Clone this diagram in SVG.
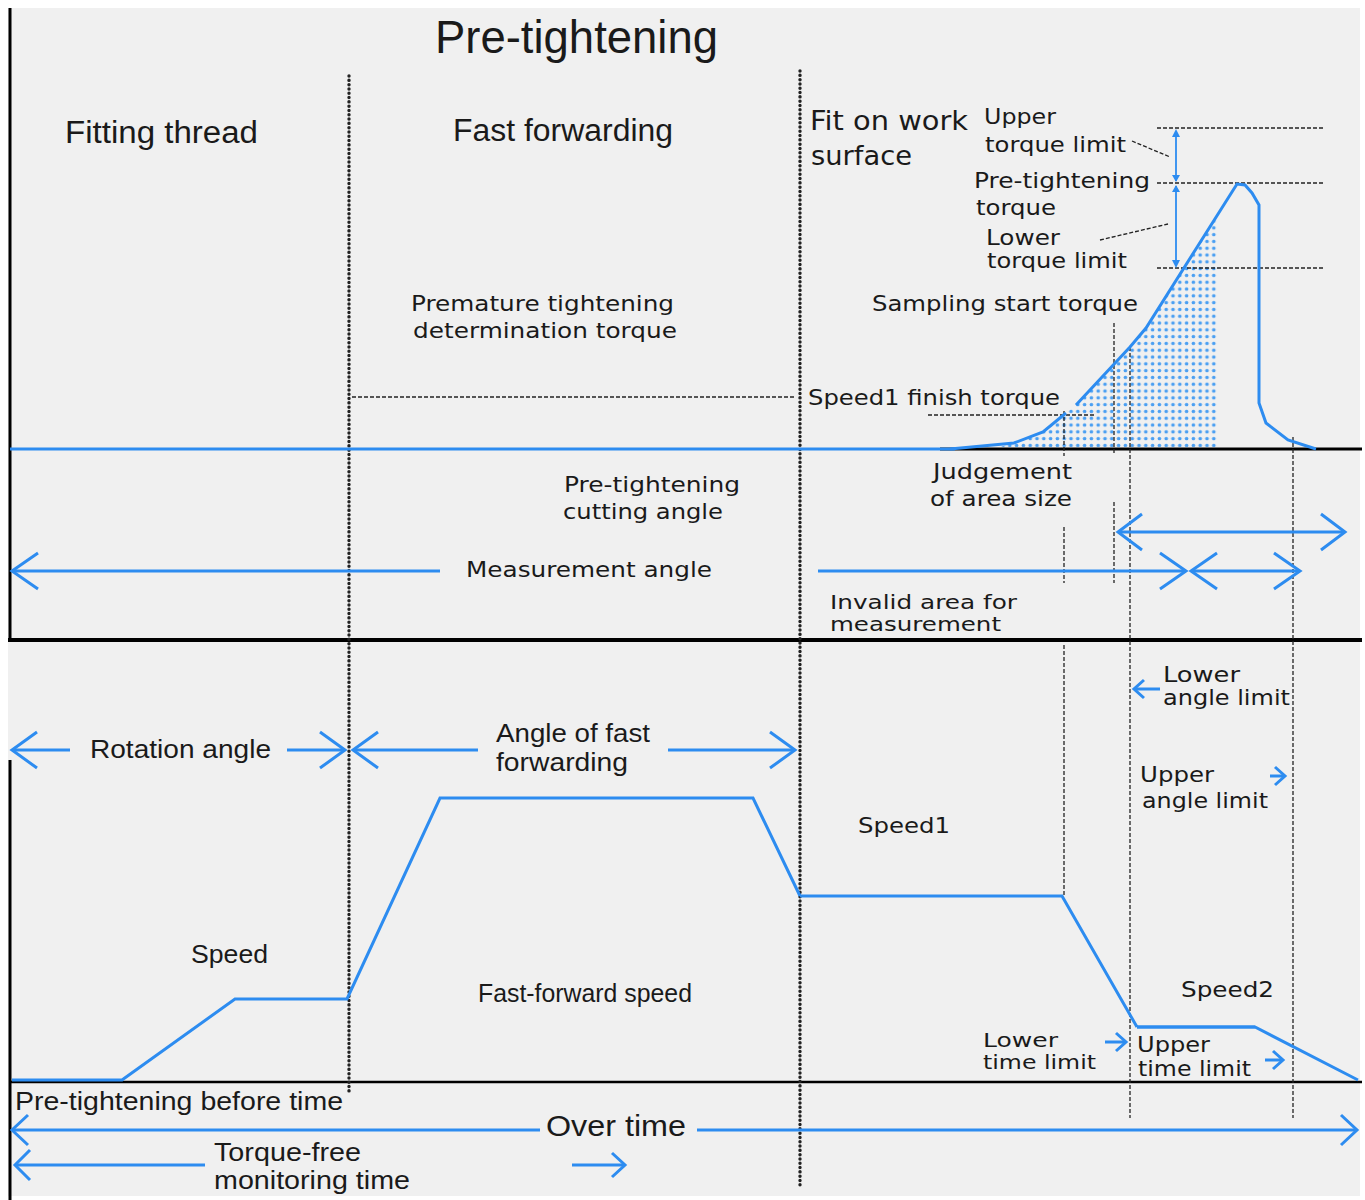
<svg xmlns="http://www.w3.org/2000/svg" width="1365" height="1200" viewBox="0 0 1365 1200">
<defs>
<style>
.v{font-family:"DejaVu Sans","Verdana",sans-serif;fill:#1a1a1a;font-size:22px}
.t{font-family:"Liberation Sans","Arial",sans-serif;fill:#1a1a1a;font-size:26px}
.bl{stroke:#2d8cf0;stroke-width:3;fill:none;stroke-linejoin:miter}
.bk{stroke:#000;fill:none}
.dot{stroke:#222;stroke-width:3.4;stroke-dasharray:0.1 4.2;stroke-linecap:round;fill:none}
.dash{stroke:#222;stroke-width:1.3;stroke-dasharray:4 2;fill:none}
</style>
<pattern id="dots" x="0" y="0" width="6.8" height="6.8" patternUnits="userSpaceOnUse">
<circle cx="3.4" cy="3.4" r="1.8" fill="#4a9ff2"/>
</pattern>
<clipPath id="area">
<polygon points="1000,447 1014,443 1043,432 1066,413 1076,405 1130,347 1146,328 1218,214 1218,447"/>
</clipPath>
</defs>
<rect x="0" y="0" width="1365" height="1200" fill="#ffffff"/>
<rect x="8" y="8" width="1352" height="1188" fill="#f0f0f0"/>

<g id="frame">
<line class="bk" x1="10" y1="8" x2="10" y2="641" stroke-width="3"/>
<line class="bk" x1="8" y1="640" x2="1362" y2="640" stroke-width="4"/>
<line class="bk" x1="10" y1="760" x2="10" y2="1200" stroke-width="3"/>
<line class="bk" x1="10" y1="1082" x2="1362" y2="1082" stroke-width="2.5"/>
<line class="bk" x1="940" y1="449" x2="1362" y2="449" stroke-width="3"/>
</g>

<g id="area-fill">
<rect x="995" y="200" width="230" height="250" fill="url(#dots)" clip-path="url(#area)"/>
</g>

<g id="connectors">
<line class="dot" x1="349" y1="76" x2="349" y2="1093"/>
<line class="dot" x1="800" y1="71" x2="800" y2="1186"/>
<line class="dash" x1="1157" y1="128" x2="1323" y2="128"/>
<line class="dash" x1="1157" y1="183" x2="1323" y2="183"/>
<line class="dash" x1="1157" y1="268" x2="1323" y2="268"/>
<line class="dash" x1="928" y1="415" x2="1095" y2="415"/>
<line class="dash" x1="352" y1="397" x2="795" y2="397"/>
<line class="dash" x1="1132" y1="141" x2="1170" y2="157"/>
<line class="dash" x1="1100" y1="240" x2="1168" y2="224"/>
<line class="dash" x1="1064" y1="411" x2="1064" y2="456"/>
<line class="dash" x1="1064" y1="527" x2="1064" y2="583"/>
<line class="dash" x1="1064" y1="645" x2="1064" y2="895"/>
<line class="dash" x1="1114" y1="323" x2="1114" y2="453"/>
<line class="dash" x1="1114" y1="502" x2="1114" y2="583"/>
<line class="dash" x1="1130" y1="347" x2="1130" y2="1118"/>
<line class="dash" x1="1293" y1="437" x2="1293" y2="1118"/>

<line class="bl" x1="10" y1="449" x2="955" y2="449" stroke-width="4"/>
<polyline class="bl" points="950,449 1014,443 1043,432 1066,413"/>
<polyline class="bl" points="1076,405 1130,347 1146,328 1237,184 1245,185 1252,193 1259,205 1259,403 1266,423 1288,440 1316,449"/>

<line stroke="#2d8cf0" stroke-width="1.8" x1="1176" y1="131" x2="1176" y2="181"/>
<line stroke="#2d8cf0" stroke-width="1.8" x1="1176" y1="186" x2="1176" y2="266"/>
<path d="M1172,137 L1176,129 L1180,137 Z M1172,175 L1176,182 L1180,175 Z M1172,192 L1176,185 L1180,192 Z M1172,260 L1176,268 L1180,260 Z" fill="#2d8cf0"/>

<line class="bl" x1="12" y1="571" x2="440" y2="571"/>
<path class="bl" d="M38,553 L12,571 L38,589"/>
<line class="bl" x1="818" y1="571" x2="1186" y2="571"/>
<path class="bl" d="M1160,553 L1186,571 L1160,589"/>
<line class="bl" x1="1191" y1="571" x2="1300" y2="571"/>
<path class="bl" d="M1217,553 L1191,571 L1217,589"/>
<path class="bl" d="M1274,553 L1300,571 L1274,589"/>
<line class="bl" x1="1118" y1="532" x2="1345" y2="532"/>
<path class="bl" d="M1142,514 L1118,532 L1142,550"/>
<path class="bl" d="M1321,514 L1345,532 L1321,550"/>

<line class="bl" x1="12" y1="750" x2="70" y2="750"/>
<path class="bl" d="M37,732 L12,750 L37,768"/>
<line class="bl" x1="287" y1="750" x2="345" y2="750"/>
<path class="bl" d="M320,732 L345,750 L320,768"/>
<line class="bl" x1="353" y1="750" x2="478" y2="750"/>
<path class="bl" d="M378,732 L353,750 L378,768"/>
<line class="bl" x1="668" y1="750" x2="795" y2="750"/>
<path class="bl" d="M770,732 L795,750 L770,768"/>

<polyline class="bl" points="12,1080 122,1080 235,999 347,999 440,798 753,798 800,896"/>
<polyline class="bl" stroke-width="5" points="800,896 1062,896 1137,1027"/>
<polyline class="bl" points="1137,1027 1255,1027 1358,1080"/>
<line class="bl" x1="1137" y1="1027" x2="1255" y2="1027" stroke-width="4"/>

<line class="bl" x1="1134" y1="689" x2="1160" y2="689"/>
<path class="bl" d="M1144,680 L1134,689 L1144,698"/>
<line class="bl" x1="1270" y1="776" x2="1285" y2="776"/>
<path class="bl" d="M1275,767 L1285,776 L1275,785"/>
<line class="bl" x1="1105" y1="1042" x2="1126" y2="1042"/>
<path class="bl" d="M1116,1033 L1126,1042 L1116,1051"/>
<line class="bl" x1="1265" y1="1060" x2="1283" y2="1060"/>
<path class="bl" d="M1273,1051 L1283,1060 L1273,1069"/>

<line class="bl" x1="12" y1="1130" x2="540" y2="1130"/>
<path class="bl" d="M28,1115 L12,1130 L28,1145"/>
<line class="bl" x1="697" y1="1130" x2="1357" y2="1130"/>
<path class="bl" d="M1341,1115 L1357,1130 L1341,1145"/>
<line class="bl" x1="15" y1="1165" x2="205" y2="1165"/>
<path class="bl" d="M30,1150 L15,1165 L30,1180"/>
<line class="bl" x1="572" y1="1165" x2="625" y2="1165"/>
<path class="bl" d="M612,1153 L625,1165 L612,1177"/>
</g>

<g id="labels">
<text class="t" x="435" y="53" style="font-size:46px" textLength="283" lengthAdjust="spacingAndGlyphs">Pre-tightening</text>
<text class="t" x="65" y="143" style="font-size:31px" textLength="193" lengthAdjust="spacingAndGlyphs">Fitting thread</text>
<text class="t" x="453" y="141" style="font-size:31px" textLength="220" lengthAdjust="spacingAndGlyphs">Fast forwarding</text>
<text class="v" x="810" y="130" style="font-size:27px" textLength="158" lengthAdjust="spacingAndGlyphs">Fit on work</text>
<text class="v" x="811" y="165" style="font-size:27px" textLength="101" lengthAdjust="spacingAndGlyphs">surface</text>
<text class="v" x="984" y="124" textLength="72" lengthAdjust="spacingAndGlyphs">Upper</text>
<text class="v" x="985" y="152" textLength="141" lengthAdjust="spacingAndGlyphs">torque limit</text>
<text class="v" x="974" y="188" textLength="176" lengthAdjust="spacingAndGlyphs">Pre-tightening</text>
<text class="v" x="976" y="215" textLength="80" lengthAdjust="spacingAndGlyphs">torque</text>
<text class="v" x="986" y="245" style="font-size:21px" textLength="74" lengthAdjust="spacingAndGlyphs">Lower</text>
<text class="v" x="987" y="268" style="font-size:21px" textLength="140" lengthAdjust="spacingAndGlyphs">torque limit</text>
<text class="v" x="411" y="311" textLength="263" lengthAdjust="spacingAndGlyphs">Premature tightening</text>
<text class="v" x="413" y="338" textLength="264" lengthAdjust="spacingAndGlyphs">determination torque</text>
<text class="v" x="872" y="311" textLength="266" lengthAdjust="spacingAndGlyphs">Sampling start torque</text>
<text class="v" x="808" y="405" textLength="252" lengthAdjust="spacingAndGlyphs">Speed1 finish torque</text>
<text class="v" x="933" y="479" textLength="139" lengthAdjust="spacingAndGlyphs">Judgement</text>
<text class="v" x="930" y="506" textLength="142" lengthAdjust="spacingAndGlyphs">of area size</text>
<text class="v" x="564" y="492" textLength="176" lengthAdjust="spacingAndGlyphs">Pre-tightening</text>
<text class="v" x="563" y="519" textLength="160" lengthAdjust="spacingAndGlyphs">cutting angle</text>
<text class="v" x="466" y="577" textLength="246" lengthAdjust="spacingAndGlyphs">Measurement angle</text>
<text class="v" x="830" y="609" style="font-size:19px" textLength="187" lengthAdjust="spacingAndGlyphs">Invalid area for</text>
<text class="v" x="830" y="631" style="font-size:19px" textLength="171" lengthAdjust="spacingAndGlyphs">measurement</text>
<text class="v" x="1163" y="682" style="font-size:21px" textLength="77" lengthAdjust="spacingAndGlyphs">Lower</text>
<text class="v" x="1163" y="705" style="font-size:21px" textLength="127" lengthAdjust="spacingAndGlyphs">angle limit</text>
<text class="t" x="90" y="758" textLength="181" lengthAdjust="spacingAndGlyphs">Rotation angle</text>
<text class="t" x="496" y="742" textLength="154" lengthAdjust="spacingAndGlyphs">Angle of fast</text>
<text class="t" x="496" y="771" textLength="132" lengthAdjust="spacingAndGlyphs">forwarding</text>
<text class="v" x="1140" y="782" textLength="74" lengthAdjust="spacingAndGlyphs">Upper</text>
<text class="v" x="1142" y="808" textLength="126" lengthAdjust="spacingAndGlyphs">angle limit</text>
<text class="v" x="858" y="833" textLength="92" lengthAdjust="spacingAndGlyphs">Speed1</text>
<text class="t" x="191" y="963" textLength="77" lengthAdjust="spacingAndGlyphs">Speed</text>
<text class="t" x="478" y="1002" textLength="214" lengthAdjust="spacingAndGlyphs">Fast-forward speed</text>
<text class="v" x="1181" y="997" textLength="93" lengthAdjust="spacingAndGlyphs">Speed2</text>
<text class="v" x="983" y="1047" style="font-size:20px" textLength="75" lengthAdjust="spacingAndGlyphs">Lower</text>
<text class="v" x="983" y="1069" style="font-size:20px" textLength="113" lengthAdjust="spacingAndGlyphs">time limit</text>
<text class="v" x="1137" y="1052" style="font-size:21px" textLength="73" lengthAdjust="spacingAndGlyphs">Upper</text>
<text class="v" x="1138" y="1076" style="font-size:21px" textLength="113" lengthAdjust="spacingAndGlyphs">time limit</text>
<text class="t" x="15" y="1110" textLength="328" lengthAdjust="spacingAndGlyphs">Pre-tightening before time</text>
<text class="t" x="546" y="1136" style="font-size:30px" textLength="140" lengthAdjust="spacingAndGlyphs">Over time</text>
<text class="t" x="214" y="1161" textLength="147" lengthAdjust="spacingAndGlyphs">Torque-free</text>
<text class="t" x="214" y="1189" textLength="196" lengthAdjust="spacingAndGlyphs">monitoring time</text>
</g>
</svg>
